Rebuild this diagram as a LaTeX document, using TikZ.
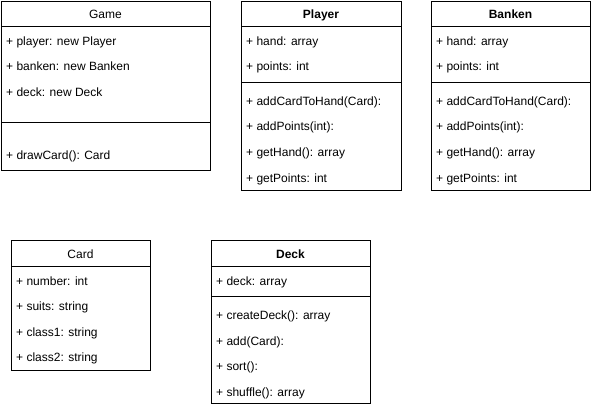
\documentclass[tikz,border=0pt]{standalone}
\usepackage{fontspec}
\setmainfont{Liberation Sans}
\begin{document}
\begin{tikzpicture}[x=1pt,y=-1pt,
  box/.style={draw=black,line width=1pt},
  sep/.style={draw=black,line width=1pt},
  attr/.style={anchor=west,inner sep=0pt,text height=9pt,text depth=0pt,font=\fontsize{12}{14}\selectfont},
  title/.style={anchor=center,inner sep=0pt,text height=9pt,text depth=0pt,font=\fontsize{12}{14}\selectfont},
  btitle/.style={title,font=\fontsize{12}{14}\selectfont\bfseries}]
\useasboundingbox (0,0) rectangle (591,408);
% Game
\draw[box] (1,1) rectangle (210,170);
\draw[sep] (1,26) -- (210,26);
\draw[sep] (1,122) -- (210,122);
\node[title] (gameT) at (105.5,14) {Game};
\node[attr] (g1) at (6,40.5) {+ player: new Player};
\node[attr] (g2) at (6,66) {+ banken: new Banken};
\node[attr] (g3) at (6,91.5) {+ deck: new Deck};
\node[attr] (g4) at (6,154.5) {+ drawCard(): Card};
% Player
\draw[box] (241,1) rectangle (401,190);
\draw[sep] (241,26) -- (401,26);
\draw[sep] (241,82) -- (401,82);
\node[btitle] (playerT) at (321,14) {Player};
\node[attr] (p1) at (246,40.5) {+ hand: array};
\node[attr] (p2) at (246,66) {+ points: int};
\node[attr] (p3) at (246,100.5) {+ addCardToHand(Card):};
\node[attr] (p4) at (246,126) {+ addPoints(int):};
\node[attr] (p5) at (246,152) {+ getHand(): array};
\node[attr] (p6) at (246,177.5) {+ getPoints: int};
% Banken
\draw[box] (431,1) rectangle (590,190);
\draw[sep] (431,26) -- (590,26);
\draw[sep] (431,82) -- (590,82);
\node[btitle] (bankenT) at (510.5,14) {Banken};
\node[attr] (b1) at (436,40.5) {+ hand: array};
\node[attr] (b2) at (436,66) {+ points: int};
\node[attr] (b3) at (436,100.5) {+ addCardToHand(Card):};
\node[attr] (b4) at (436,126) {+ addPoints(int):};
\node[attr] (b5) at (436,152) {+ getHand(): array};
\node[attr] (b6) at (436,177.5) {+ getPoints: int};
% Card
\draw[box] (11,240) rectangle (150,370);
\draw[sep] (11,266) -- (150,266);
\node[title] (cardT) at (80.5,253.5) {Card};
\node[attr] (c1) at (16,280.5) {+ number: int};
\node[attr] (c2) at (16,306) {+ suits: string};
\node[attr] (c3) at (16,331.5) {+ class1: string};
\node[attr] (c4) at (16,357) {+ class2: string};
% Deck
\draw[box] (211,240) rectangle (370,403);
\draw[sep] (211,266) -- (370,266);
\draw[sep] (211,296) -- (370,296);
\node[btitle] (deckT) at (290.5,253.5) {Deck};
\node[attr] (d1) at (216,280.5) {+ deck: array};
\node[attr] (d2) at (216,314.5) {+ createDeck(): array};
\node[attr] (d3) at (216,340.5) {+ add(Card):};
\node[attr] (d4) at (216,366) {+ sort():};
\node[attr] (d5) at (216,392) {+ shuffle(): array};
\end{tikzpicture}
\end{document}
